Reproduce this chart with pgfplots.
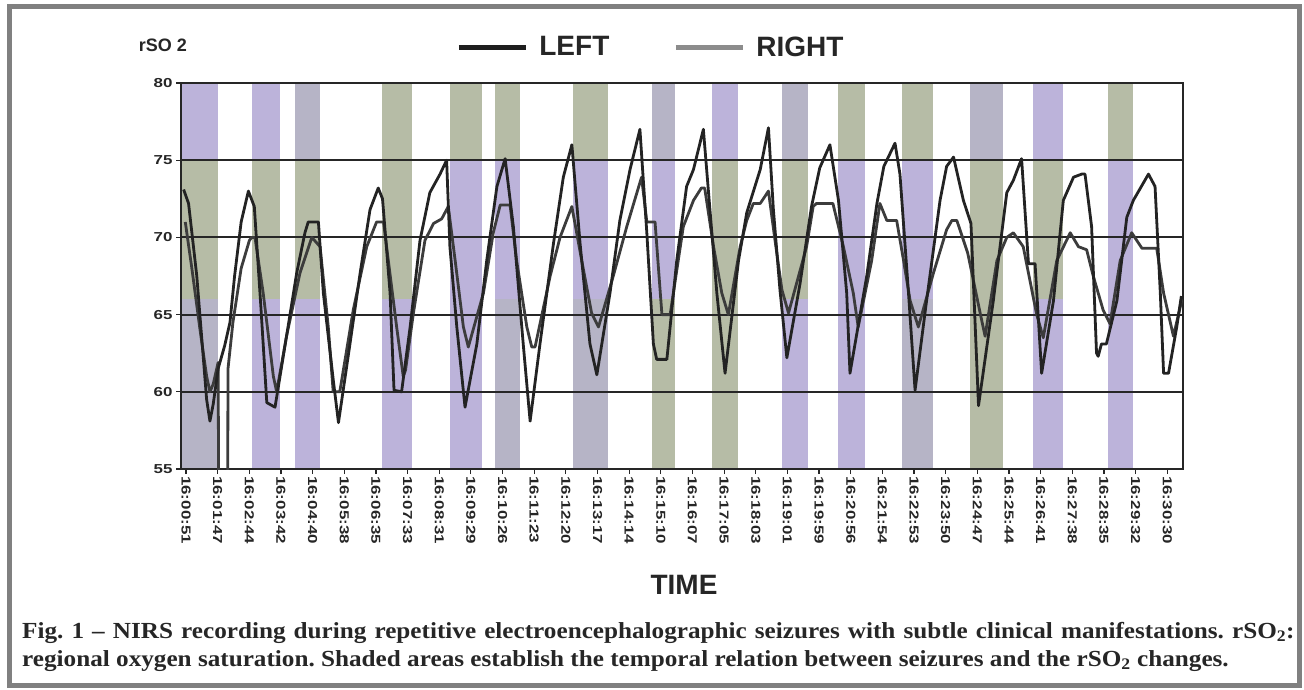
\documentclass[border=0pt]{standalone}
\usepackage{fontspec}
\setmainfont{Liberation Sans}
\newfontfamily\capfont{Liberation Serif}
\usepackage{graphicx}
\usepackage{pgfplots}
\pgfplotsset{compat=1.18}

\definecolor{lav}{RGB}{188,179,218}
\definecolor{sage}{RGB}{182,188,166}
\definecolor{mix}{RGB}{182,180,198}
\definecolor{ink}{RGB}{38,38,38}
\definecolor{frm}{RGB}{128,128,128}
\definecolor{lineA}{RGB}{35,35,35}
\definecolor{lineB}{RGB}{60,60,60}
\definecolor{legA}{RGB}{30,30,30}
\definecolor{legB}{RGB}{140,140,140}
\newcommand\TL[1]{\scalebox{1.3}[1]{#1}}
\newcommand\band[5]{%
  \addplot[forget plot, draw=none, fill=#3, on layer=axis background] coordinates {(#1,74.9) (#1,80) (#2,80) (#2,74.9)} -- cycle;
  \addplot[forget plot, draw=none, fill=#4, on layer=axis background] coordinates {(#1,65.9) (#1,75) (#2,75) (#2,65.9)} -- cycle;
  \addplot[forget plot, draw=none, fill=#5, on layer=axis background] coordinates {(#1,55) (#1,66) (#2,66) (#2,55)} -- cycle;
}

\pgfplotstableread{
u v
0.05 73.1
0.2 72.2
0.45 67.5
0.6 63.5
0.75 59.5
0.85 58.1
0.95 59.2
1.1 61.5
1.3 63
1.46 64.5
1.6 67.5
1.8 71
2.02 73.0
2.2 72.0
2.4 65.5
2.58 59.3
2.83 59.0
3.18 63.6
3.49 67.7
3.74 70.3
3.84 71.0
4.15 71.0
4.30 66.4
4.60 60.8
4.76 58.0
5.11 63.1
5.42 67.7
5.72 71.8
5.97 73.2
6.10 72.5
6.33 66.4
6.45 60.1
6.68 60.0
6.94 64.2
7.24 69.8
7.54 72.9
7.85 74.1
8.05 75.0
8.15 69.4
8.36 64.2
8.61 59.0
8.97 63.1
9.27 68.5
9.58 73.3
9.83 75.1
10.08 70.7
10.38 63.1
10.59 58.1
10.89 63.1
11.30 69.6
11.60 73.9
11.86 76.0
12.11 69.6
12.41 63.1
12.62 61.1
13.02 66.4
13.32 71.1
13.63 74.4
13.93 77.0
14.14 70.3
14.34 63.1
14.44 62.1
14.75 62.1
15.05 68.5
15.35 73.3
15.56 74.4
15.86 77.0
16.06 71.8
16.27 66.4
16.52 61.2
16.93 68.5
17.18 71.6
17.59 74.4
17.84 77.1
17.99 71.8
18.19 66.6
18.40 62.2
18.8 67
19.15 72
19.4 74.5
19.71 76.0
19.97 72.4
20.22 66.4
20.32 61.2
20.83 67.5
21.14 72.2
21.35 74.6
21.69 76.1
21.84 74.1
22.10 66.4
22.30 60.1
22.65 65.9
23.06 72.4
23.26 74.6
23.47 75.2
23.77 72.4
24.0 70.9
24.23 59.1
24.68 65.9
25.09 72.9
25.29 73.7
25.54 75.1
25.75 68.3
25.95 68.3
26.15 61.2
26.51 65.9
26.81 72.4
27.12 73.9
27.37 74.1
27.47 74.1
27.67 70.7
27.82 62.5
27.87 62.3
27.97 63.1
28.12 63.1
28.44 65.9
28.74 71.3
28.94 72.4
29.40 74.1
29.60 73.3
29.76 66.4
29.86 61.2
30.01 61.2
30.26 64.2
30.40 66.2
}\leftdata

\pgfplotstableread{
u v
0.1 71.0
0.3 68
0.55 64
0.75 61
0.85 60.0
0.95 60.5
1.10 61.9
1.13 45
1.38 45
1.40 61.5
1.55 64.5
1.8 68
2.05 69.8
2.12 70.0
2.22 70.0
2.47 66.4
2.78 61.0
2.88 60.0
3.18 63.6
3.59 67.7
3.95 70.0
4.2 69.4
4.45 64.2
4.6 60.0
4.8 60.0
5.21 65.3
5.62 69.4
5.92 71.0
6.13 71.0
6.53 64.2
6.73 61.0
6.80 61.4
7.04 65.1
7.39 69.8
7.65 70.9
7.90 71.2
8.10 72.0
8.31 68.5
8.56 64.2
8.71 62.9
9.17 66.4
9.47 70.3
9.68 72.1
9.98 72.1
10.18 68.5
10.49 64.2
10.64 62.9
10.74 62.9
11.2 67.5
11.5 70.0
11.86 72.0
12.16 68.5
12.46 65.1
12.67 64.2
13.12 67.5
13.53 70.7
13.98 73.9
14.14 71.0
14.39 71.0
14.55 66.4
14.6 65.0
14.85 65.0
15.25 70.7
15.56 72.4
15.8 73.2
15.9 73.2
16.17 69.4
16.42 66.4
16.62 65.0
16.98 69.4
17.18 71.1
17.38 72.2
17.59 72.2
17.84 73.0
18.04 69.8
18.25 66.6
18.45 65.1
19.0 69.4
19.2 72.0
19.3 72.2
19.8 72.2
20.12 69.4
20.42 66.4
20.57 64.2
20.98 68.5
21.23 72.2
21.44 71.1
21.74 71.1
21.95 68.5
22.15 65.9
22.40 64.2
22.86 67.7
23.26 70.5
23.42 71.1
23.57 71.1
23.9 69
24.28 65.1
24.43 63.6
24.79 68.5
25.09 70.0
25.29 70.3
25.59 69.4
26.0 65.0
26.2 63.5
26.61 68.5
27.02 70.3
27.27 69.4
27.52 69.2
27.72 67.5
28.02 65.3
28.23 64.4
28.54 68.5
28.89 70.3
29.2 69.3
29.65 69.3
29.86 66.4
30.16 63.6
30.42 66.0
}\rightdata

\begin{document}
\begin{tikzpicture}[x=1pt,y=1pt]
\begin{axis}[
  name=ax,
  set layers,
  anchor=south west,
  scale only axis, width=1002pt, height=386pt,
  xmin=-0.03, xmax=30.45, ymin=55, ymax=80,
  ytick={55,60,65,70,75,80},
  yticklabels={\TL{55},\TL{60},\TL{65},\TL{70},\TL{75},\TL{80}},
  xtick={0.1217,1.0846,...,30.1},
  xticklabels={\TL{16:00:51},\TL{16:01:47},\TL{16:02:44},\TL{16:03:42},\TL{16:04:40},\TL{16:05:38},\TL{16:06:35},\TL{16:07:33},\TL{16:08:31},\TL{16:09:29},\TL{16:10:26},\TL{16:11:23},\TL{16:12:20},\TL{16:13:17},\TL{16:14:14},\TL{16:15:10},\TL{16:16:07},\TL{16:17:05},\TL{16:18:03},\TL{16:19:01},\TL{16:19:59},\TL{16:20:56},\TL{16:21:54},\TL{16:22:53},\TL{16:23:50},\TL{16:24:47},\TL{16:25:44},\TL{16:26:41},\TL{16:27:38},\TL{16:28:35},\TL{16:29:32},\TL{16:30:30}},
  minor x tick num=5,
  ymajorgrids,
  grid style={ink, line width=2pt},
  axis line style={ink, line width=2pt},
  tick style={ink, line width=1.2pt},
  major tick length=5pt, minor tick length=5pt,
  tick align=outside,
  xtick pos=bottom, ytick pos=left,
  xticklabel style={rotate=-90, anchor=west, font=\bfseries\fontsize{13}{13}\selectfont, text=ink, inner sep=2pt},
  yticklabel style={font=\bfseries\fontsize{13}{13}\selectfont, text=ink},
  legend columns=2,
  legend style={at={(0.469,1.093)}, anchor=center, draw=none, fill=none,
    font=\bfseries\fontsize{28}{28}\selectfont, text=ink,
    /tikz/every odd column/.append style={column sep=9pt},
    /tikz/every even column/.append style={column sep=62pt}},
  legend image code/.code={\draw[#1, line width=5pt] (0pt,0pt) -- (67pt,0pt);},
]
% shaded seizure bands: from, to, top / middle / bottom colour
\band{-0.03}{1.10}{lav}{sage}{mix}
\band{2.13}{2.98}{lav}{sage}{lav}
\band{3.44}{4.20}{mix}{sage}{lav}
\band{6.08}{7.00}{sage}{sage}{lav}
\band{8.15}{9.13}{sage}{lav}{lav}
\band{9.52}{10.28}{sage}{lav}{mix}
\band{11.90}{12.96}{sage}{lav}{mix}
\band{14.30}{15.00}{mix}{lav}{sage}
\band{16.12}{16.92}{lav}{sage}{sage}
\band{18.25}{19.04}{mix}{sage}{lav}
\band{19.96}{20.78}{sage}{lav}{lav}
\band{21.90}{22.85}{sage}{lav}{mix}
\band{23.97}{24.98}{mix}{sage}{sage}
\band{25.89}{26.80}{lav}{sage}{lav}
\band{28.17}{28.93}{sage}{lav}{lav}

\addplot[forget plot, lineB, line width=2.8pt, line join=round] table[x=u,y=v] {\rightdata};
\addplot[forget plot, lineA, line width=2.8pt, line join=round] table[x=u,y=v] {\leftdata};

\addlegendimage{legA}
\addlegendentry{LEFT}
\addlegendimage{legB}
\addlegendentry{RIGHT}
\end{axis}

\path (ax.south west) ++(-181pt,-220pt) coordinate (O);
\begin{scope}[shift={(O)}]
\draw[frm, line width=5pt] (9.5,4) rectangle (1299.5,682);
\node[font=\bfseries\fontsize{18}{18}\selectfont, text=ink] at (163,644) {rSO 2};
\node[font=\bfseries\fontsize{28}{28}\selectfont, text=ink] at (684,104) {TIME};
\node[anchor=base west, inner sep=0pt, text=ink] at (22,51)
  {\capfont\bfseries\fontsize{23}{27}\selectfont\frenchspacing\scalebox{1.095}[1]{\makebox[1162pt][s]{Fig. 1 – NIRS recording during repetitive electroencephalographic seizures with subtle clinical manifestations. rSO\textsubscript{2}:}}};
\node[anchor=base west, inner sep=0pt, text=ink] at (22,23)
  {\capfont\bfseries\fontsize{23}{27}\selectfont\frenchspacing\scalebox{1.095}[1]{regional oxygen saturation. Shaded areas establish the temporal relation between seizures and the rSO\textsubscript{2} changes.}};
\path (0,0) rectangle (1304,689);
\end{scope}
\end{tikzpicture}
\end{document}
